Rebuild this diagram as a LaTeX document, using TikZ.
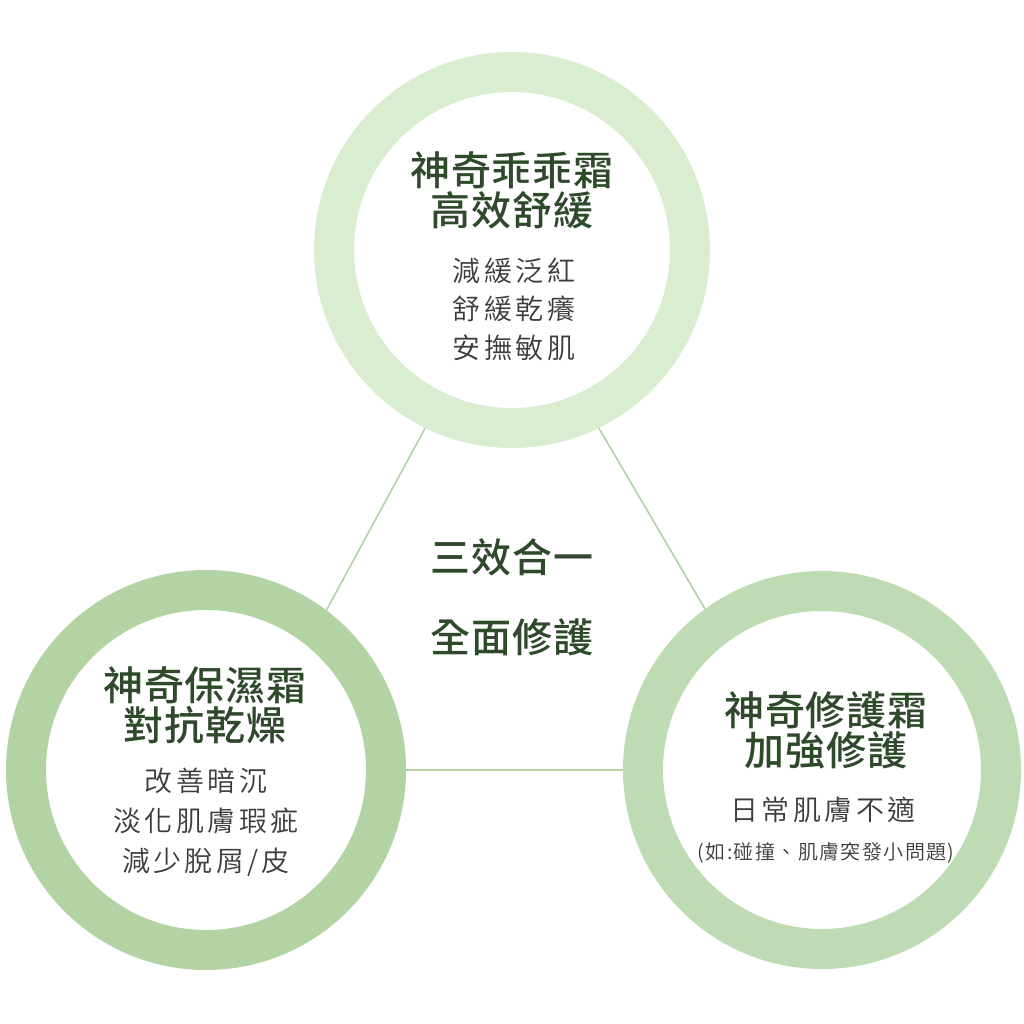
\documentclass[tikz,border=0pt]{standalone}
\usepackage{fontspec}
\newfontfamily\cjktitle[LetterSpace=2]{Noto Sans CJK TC Medium}
\newfontfamily\cjkmid[LetterSpace=3]{Noto Sans CJK TC Medium}
\newfontfamily\cjkbody[LetterSpace=12]{Noto Sans CJK TC DemiLight}
\newfontfamily\cjknote[LetterSpace=7]{Noto Sans CJK TC DemiLight}
\definecolor{ringtop}{HTML}{D9EED1}
\definecolor{ringleft}{HTML}{B3D3A4}
\definecolor{ringright}{HTML}{BFDBB3}
\definecolor{linkcol}{HTML}{B3D1A6}
\definecolor{titlecol}{HTML}{2E4A2B}
\definecolor{bodycol}{HTML}{3C3C3C}
\tikzset{
  ring/.style={circle, draw=#1, line width=40pt, inner sep=0pt},
  link/.style={draw=linkcol, line width=1.6pt},
  titletext/.style={align=center, text=titlecol, font=\cjktitle\fontsize{40}{40}\selectfont, inner sep=0pt},
  midtext/.style={align=center, text=titlecol, font=\cjkmid\fontsize{40}{40}\selectfont, inner sep=0pt},
  bodytext/.style={align=center, text=bodycol, font=\cjkbody\fontsize{28}{#1}\selectfont, inner sep=0pt},
  notetext/.style={align=center, text=bodycol, font=\cjknote\fontsize{20}{24}\selectfont, inner sep=0pt},
}
\begin{document}
\begin{tikzpicture}[x=1pt,y=-1pt]
\fill[white] (0,0) rectangle (1024,1024);
\useasboundingbox (0,0) rectangle (1024,1024);
% rings
\node[ring=ringtop, minimum size=356pt] (top) at (512,250) {};
\node[ring=ringleft, minimum size=360pt] (left) at (206,770) {};
\node[ring=ringright, minimum size=358pt] (right) at (822,770) {};
% connectors
\draw[link] (top.244.7) -- (left.53.4);
\draw[link] (top.296.2) -- (right.126);
\draw[link] (left.0) -- (right.180);
% top circle text
\node[titletext] (toptitle) at (512,190) {神奇乖乖霜\\高效舒緩};
\node[bodytext=38.5] (topbody) at (514,309) {減緩泛紅\\舒緩乾癢\\安撫敏肌};
% left circle text
\node[titletext] (lefttitle) at (205,705) {神奇保濕霜\\對抗乾燥};
\node[bodytext=40] (leftbody) at (206,822) {改善暗沉\\淡化肌膚瑕疵\\減少脫屑/皮};
% right circle text
\node[titletext] (righttitle) at (826,730) {神奇修護霜\\加強修護};
\node[bodytext=40] (rightbody) at (823,810) {日常肌膚不適};
\node[notetext] (rightnote) at (826,853) {(如:碰撞、肌膚突發小問題)};
% centre text
\node[midtext] (mid1) at (512,557) {三效合一};
\node[midtext] (mid2) at (512,637) {全面修護};
\end{tikzpicture}
\end{document}
